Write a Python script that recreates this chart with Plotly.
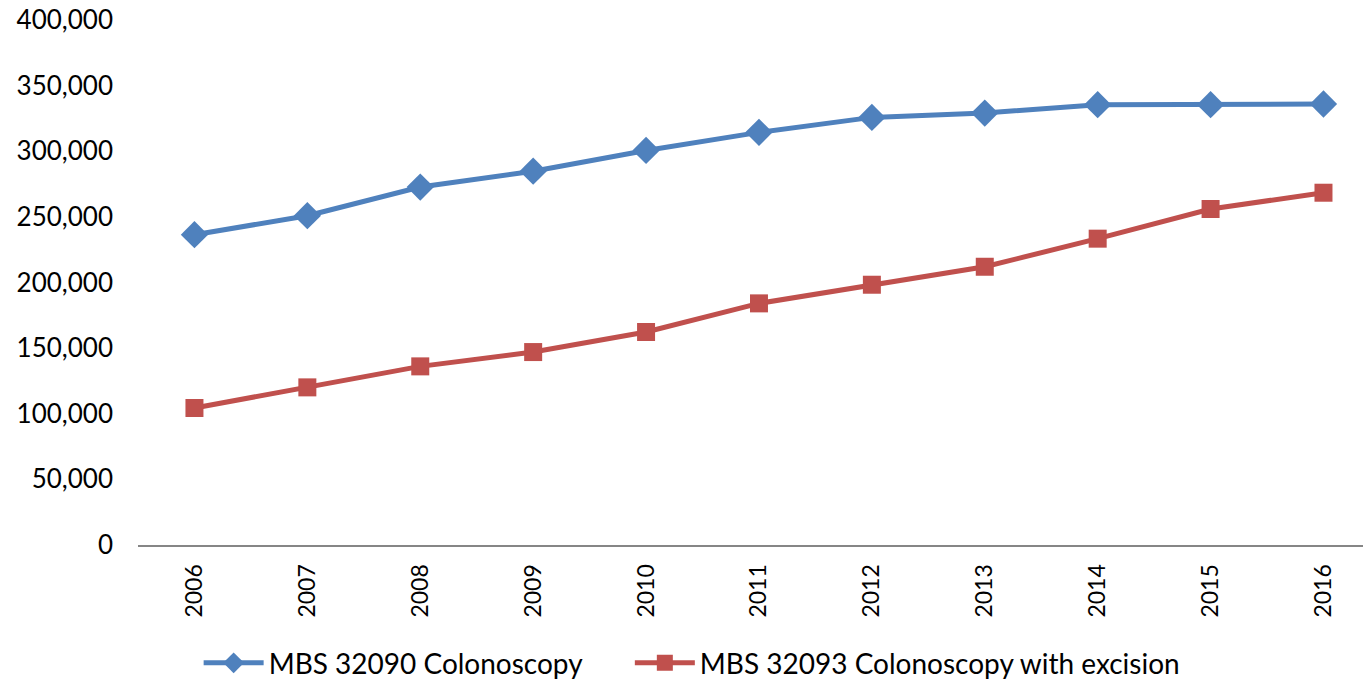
import plotly.graph_objects as go

years = ["2006", "2007", "2008", "2009", "2010", "2011", "2012", "2013", "2014", "2015", "2016"]
colonoscopy = [236400, 250900, 272700, 284800, 300600, 314400, 325800, 329100, 335500, 335500, 336000]
excision = [104400, 120100, 136100, 147000, 162300, 184100, 198300, 212000, 233400, 256000, 268400]
y_ticks = [0, 50000, 100000, 150000, 200000, 250000, 300000, 350000, 400000]
y_tick_text = ["0", "50,000", "100,000", "150,000", "200,000", "250,000", "300,000", "350,000", "400,000"]

FONT = "Lato"

fig = go.Figure()
fig.add_trace(go.Scatter(
    x=years, y=colonoscopy, name="MBS 32090 Colonoscopy",
    mode="lines+markers",
    line=dict(color="#4F81BD", width=5),
    marker=dict(symbol="diamond", size=21, color="#4F81BD"),
    legend="legend",
))
fig.add_trace(go.Scatter(
    x=years, y=excision, name="MBS 32093 Colonoscopy with excision",
    mode="lines+markers",
    line=dict(color="#C0504D", width=5),
    marker=dict(symbol="square", size=18, color="#C0504D"),
    legend="legend2",
))

leg_common = dict(orientation="h", xanchor="left", y=-0.225, yanchor="middle",
                  font=dict(family=FONT, size=28), itemwidth=60, bgcolor="rgba(0,0,0,0)")

fig.update_layout(
    width=1363, height=679,
    margin=dict(l=138, r=0, t=20, b=134, autoexpand=False),
    paper_bgcolor="white", plot_bgcolor="white",
    font=dict(family=FONT, size=26, color="black"),
    showlegend=True,
    legend=dict(x=0.0495, **leg_common),
    legend2=dict(x=0.4015, **leg_common),
)
fig.update_xaxes(
    type="category", range=[-0.5, 10.35], automargin=False,
    showline=True, linecolor="#868686", linewidth=2,
    showgrid=False, ticks="", tickangle=-90,
    ticklabelstandoff=8,
    tickfont=dict(family=FONT, size=23),
)
fig.update_yaxes(
    range=[0, 400000], tickvals=y_ticks, ticktext=y_tick_text, automargin=False,
    showgrid=False, showline=False, zeroline=False, ticks="",
    ticklabelstandoff=24, ticklabeloverflow="allow",
    tickfont=dict(family=FONT, size=26),
)

fig.write_html("out.html", config={"displayModeBar": False},
               post_script="document.body.style.margin='0';")
